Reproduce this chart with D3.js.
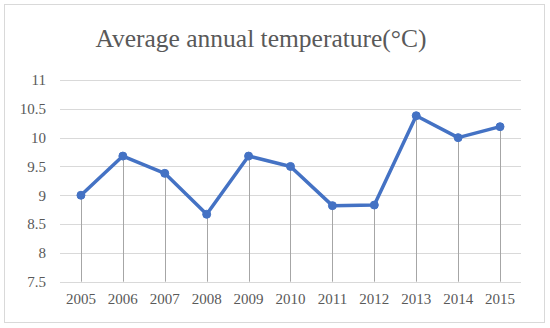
<!DOCTYPE html>
<html><head><meta charset="utf-8">
<script src="https://cdn.jsdelivr.net/npm/d3@7"></script>
<style>body{margin:0;background:#fff;}svg{display:block;}</style>
</head><body>
<svg id="c" width="550" height="328"></svg>
<script>
const years = ["2005","2006","2007","2008","2009","2010","2011","2012","2013","2014","2015"];
const temps = [9.0, 9.68, 9.38, 8.67, 9.68, 9.5, 8.82, 8.83, 10.38, 10.0, 10.19];
const yTicks = [7.5, 8, 8.5, 9, 9.5, 10, 10.5, 11];
const title = "Average annual temperature(°C)";

const svg = d3.select("#c");
const font = "'Liberation Serif','Times New Roman',serif";
const txt = "#595959";

svg.append("rect").attr("x",4.5).attr("y",4.5).attr("width",540).attr("height",318)
  .attr("fill","#fff").attr("stroke","#d9d9d9").attr("stroke-width",1);

svg.append("text").attr("x",261).attr("y",47).attr("text-anchor","middle")
  .attr("font-family",font).attr("font-size",25.5).attr("fill",txt).text(title);

const x = d3.scaleBand().domain(years).range([60,521]);
const y = d3.scaleLinear().domain([7.5,11]).range([281.7,80]);

const grid = svg.append("g");
grid.selectAll("line").data(yTicks).join("line")
  .attr("x1",60).attr("x2",521)
  .attr("y1",d=>Math.round(y(d))+0.5).attr("y2",d=>Math.round(y(d))+0.5)
  .attr("stroke","#d9d9d9").attr("stroke-width",1);

const yAxis = svg.append("g").attr("transform","translate(60,0)")
  .call(d3.axisLeft(y).tickValues(yTicks).tickSize(0).tickPadding(14).tickFormat(d=>String(d)));
yAxis.select(".domain").remove();
yAxis.selectAll("text").attr("font-family",font).attr("font-size",15).attr("fill",txt);

const xAxis = svg.append("g").attr("transform","translate(0,282)")
  .call(d3.axisBottom(x).tickSize(0).tickPadding(11));
xAxis.select(".domain").remove();
xAxis.selectAll("text").attr("font-family",font).attr("font-size",15).attr("fill",txt);

const cx = d => x(d) + x.bandwidth()/2;
const pts = years.map((d,i)=>({yr:d,v:temps[i]}));

svg.append("g").selectAll("line").data(pts).join("line")
  .attr("x1",d=>Math.round(cx(d.yr))+0.5).attr("x2",d=>Math.round(cx(d.yr))+0.5)
  .attr("y1",d=>y(d.v)).attr("y2",y(7.5))
  .attr("stroke","#a6a6a6").attr("stroke-width",1);

svg.append("path").datum(pts)
  .attr("d", d3.line().x(d=>cx(d.yr)).y(d=>y(d.v)))
  .attr("fill","none").attr("stroke","#4472C4").attr("stroke-width",3.5).attr("stroke-linejoin","round");

svg.append("g").selectAll("circle").data(pts).join("circle")
  .attr("cx",d=>cx(d.yr)).attr("cy",d=>y(d.v)).attr("r",4)
  .attr("fill","#4472C4").attr("stroke","#4472C4").attr("stroke-width",1);
</script>
</body></html>
